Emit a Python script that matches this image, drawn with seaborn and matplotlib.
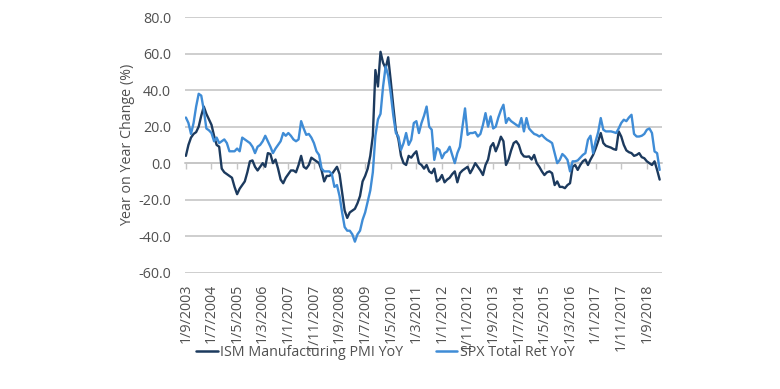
import pandas as pd
import numpy as np
import matplotlib
matplotlib.use("Agg")
import matplotlib.pyplot as plt
import seaborn as sns

# monthly YoY % values, Sep 2003 .. Feb 2019
ism_yoy = [
    4, 10, 14, 16, 17, 20, 26, 31, 27, 24,
    21, 15, 10, 9, -3, -5, -6, -7, -8, -13,
    -17, -14, -12, -10, -5, 1, 1.5, -2, -4, -2,
    0, -2, 5.5, 5, 0, 2, -3, -9, -11, -8,
    -6, -4, -4, -5, -1, 4, -2, -3, -1, 3,
    2, 1, 0, -4, -10, -7, -7, -6, -4, -2,
    -6, -16, -26, -30, -27, -26, -25, -22, -18, -10,
    -7, -3, 4, 15, 51, 42, 61, 55, 52, 58,
    45, 31, 18, 13, 4, 0, -1, 4, 3, 5,
    6.5, 0, -1, -3, -1, -4.5, -5.5, -3, -10, -9,
    -6.5, -10.5, -9, -8, -6, -4.5, -10.5, -5.5, -4, -3,
    -2, -5.5, -3, 0, -2, -4, -6.5, -1, 2, 9,
    11, 6.5, 10, 14.5, 12, -1, 2, 7, 11, 12,
    10, 5.5, 3.7, 3.5, 3.7, 2, 4.5, 0, -2, -4.5,
    -6.5, -5, -4.5, -5.5, -12, -10, -13, -13, -13.7, -12,
    -11, -2, -1, -3.7, -1, 1, 2, -1, 2, 4.5,
    8, 12, 16.5, 11, 9.5, 9, 8.5, 7.7, 7.3, 17.4,
    14.6, 10, 7, 6, 5.5, 4, 4.5, 5.5, 3.3, 2.7,
    1, 0, -1, 1, -3.7, -9,
]
spx_yoy = [
    25, 22, 16, 22, 31, 38, 37, 29, 19, 18,
    16.5, 12, 14, 11, 12, 13, 11, 6.5, 6.5, 6.5,
    8, 6.5, 14, 13, 12, 11, 9, 5.5, 9, 10,
    12, 15, 12, 9, 5.5, 8, 10, 12, 16.5, 15,
    16.5, 15, 13, 12, 13, 23, 19, 15.5, 16, 14,
    11, 6.5, 4.5, -3, -4.5, -4.5, -4.5, -6, -13, -12,
    -18, -27, -35, -37, -37, -39, -43, -39, -37, -31,
    -27, -21, -15, -5, 15, 24, 27, 42, 53, 48,
    38, 26, 16.5, 14.6, 7.3, 11, 16.5, 10, 12.8, 22,
    23, 16.5, 22, 26, 31, 20, 18.3, 1.8, 8.2, 7.3,
    2.7, 5.5, 6.4, 9, 4.5, 0, 5.5, 9, 20, 30,
    15.5, 16.5, 16.5, 17, 14.6, 16, 21, 27.4, 20, 25.6,
    19, 20, 25, 29, 32, 22, 24.7, 23, 22, 21,
    20, 24.7, 17.4, 24.7, 19, 17.4, 16, 15.5, 14.6, 15.5,
    14, 12.8, 12, 11, 5.5, 0, 1.8, 5, 3.7, 1.8,
    -4.5, 1, 1, 1.5, 3, 4.5, 5.5, 12.8, 15, 5.5,
    12, 17, 24.7, 18.3, 17.4, 17.4, 17.4, 17, 16.5, 19,
    22, 23.8, 23, 25, 26.5, 16, 14.6, 14.6, 15, 16,
    18.3, 19, 16.5, 6.4, 5.5, -3.7,
]
tick_labels = [
    "1/9/2003", "1/7/2004", "1/5/2005", "1/3/2006", "1/1/2007",
    "1/11/2007", "1/9/2008", "1/7/2009", "1/5/2010", "1/3/2011",
    "1/1/2012", "1/11/2012", "1/9/2013", "1/7/2014", "1/5/2015",
    "1/3/2016", "1/1/2017", "1/11/2017", "1/9/2018",
]
series_names = ["ISM Manufacturing PMI YoY", "SPX Total Ret YoY"]
colors = ["#1C3A5E", "#3F8CD6"]

# long table for seaborn
idx = np.arange(len(ism_yoy))
df = pd.concat([
    pd.DataFrame({"month": idx, "value": ism_yoy, "series": series_names[0]}),
    pd.DataFrame({"month": idx, "value": spx_yoy, "series": series_names[1]}),
])

sns.set_theme(style="white")
plt.rcParams["font.family"] = ["Open Sans", "DejaVu Sans"]
text_col = "#505050"
grid_col = "#C6C6C6"

fig = plt.figure(figsize=(7.8, 3.89), dpi=100)
ax = fig.add_axes([0.237, 0.299, 0.612, 0.657])

sns.lineplot(data=df, x="month", y="value", hue="series", hue_order=series_names,
             palette=colors, linewidth=1.7, ax=ax, legend=False)

ax.set_ylim(-60, 80)
ax.set_yticks(np.arange(-60, 81, 20))
ax.set_yticklabels([f"{v:.1f}" for v in np.arange(-60, 81, 20)])
ax.set_xlim(-0.4, 186)
tick_pos = np.arange(len(tick_labels)) * 10
ax.set_xticks(tick_pos)
ax.set_xticklabels(tick_labels, rotation=90)
ax.tick_params(axis="both", length=0, colors=text_col, labelsize=10.3)
ax.tick_params(axis="y", pad=10)
ax.tick_params(axis="x", pad=8)
ax.set_xlabel("")
ax.set_ylabel("Year on Year Change (%)", color=text_col, fontsize=10.3, labelpad=2)

ax.yaxis.grid(True, color=grid_col, linewidth=1.2)
ax.set_axisbelow(True)
for s in ax.spines.values():
    s.set_visible(False)

# axis line at zero with small tick marks
zero_ax = ax.secondary_xaxis(60 / 140)
zero_ax.set_xticks(tick_pos)
zero_ax.tick_params(axis="x", direction="out", length=4, width=1, color=grid_col,
                    labelbottom=False, labeltop=False, bottom=True, top=False)
for s in zero_ax.spines.values():
    s.set_color(grid_col)
    s.set_linewidth(1.2)

handles = [plt.Line2D([], [], color=c, linewidth=1.8) for c in colors]
fig.legend(handles, series_names, loc="center", bbox_to_anchor=(0.494, 0.095),
           ncol=2, frameon=False, fontsize=10.3, handlelength=1.5,
           handletextpad=0.15, columnspacing=2.3, labelcolor=text_col)

fig.savefig("out.png", dpi=100)
